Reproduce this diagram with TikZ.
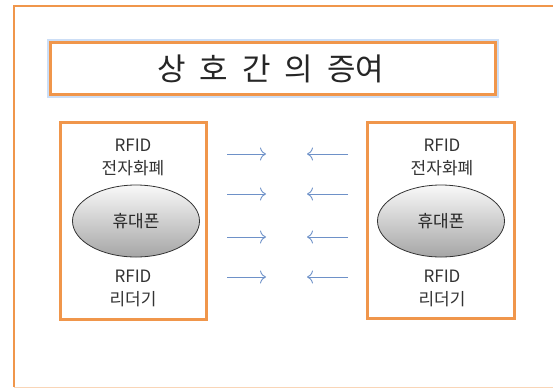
\documentclass[tikz,border=0pt]{standalone}
\usepackage{fontspec}
\setmainfont{Noto Sans CJK KR}
\newfontfamily\krfont{Noto Sans CJK KR}
\newcommand{\tsp}{\hspace{0.45em}}
\begin{document}
\begin{tikzpicture}[x=1pt,y=-1pt,
  frame/.style={draw=orangeline,line width=3pt},
  lbl/.style={font=\krfont\fontsize{17}{20}\selectfont,text=black!80,align=center,inner sep=0pt},
  phone/.style={ellipse,draw=black!80,line width=0.8pt,minimum width=127pt,minimum height=72pt,
     top color=white!95!gray,bottom color=black!35,font=\krfont\fontsize{17}{20}\selectfont,text=black!85},
  flow/.style={draw=arrowblue,line width=0.9pt,-{To[length=6pt,width=13pt]}}
]
\usetikzlibrary{shapes.geometric,arrows.meta}
\definecolor{orangeline}{RGB}{240,150,75}
\definecolor{arrowblue}{RGB}{110,145,200}
\definecolor{glow}{RGB}{170,200,240}
\useasboundingbox (0,0) rectangle (553,389);
\fill[white] (0,0) rectangle (553,389);
% outer frame
\draw[draw=orangeline,line width=2.5pt] (560,6) -- (14,6) -- (14,387);
\draw[draw=orangeline!40,line width=1pt] (14,387) -- (553,387);
% title
\draw[glow,line width=6pt,opacity=0.6] (50,42) rectangle (496,95);
\node[frame,minimum width=445pt,minimum height=52pt,inner sep=0pt,fill=white] (title) at (273,68.5) {};
\node[font=\krfont\fontsize{31}{34}\selectfont,text=black!85] (titletext) at (271,69) {상\tsp 호\tsp 간\tsp 의\tsp 증여};
% left box
\node[frame,minimum width=146pt,minimum height=197pt,inner sep=0pt] (lbox) at (133.5,221) {};
\node[lbl] (lr1) at (133,145) {RFID};
\node[lbl] (lm1) at (133,168) {전자화폐};
\node[phone] (lphone) at (136,221) {휴대폰};
\node[lbl] (lr2) at (133,276) {RFID};
\node[lbl] (lm2) at (133,299) {리더기};
% right box
\node[frame,minimum width=147pt,minimum height=196pt,inner sep=0pt] (rbox) at (441,220.5) {};
\node[lbl] (rr1) at (442,145) {RFID};
\node[lbl] (rm1) at (442,168) {전자화폐};
\node[phone] (rphone) at (441,221) {휴대폰};
\node[lbl] (rr2) at (442,276) {RFID};
\node[lbl] (rm2) at (442,299) {리더기};
% arrows
\foreach \i/\y in {1/154,2/194,3/237,4/277}{
  \coordinate (ra\i) at (227,\y); \coordinate (rb\i) at (266,\y);
  \coordinate (la\i) at (348,\y); \coordinate (lb\i) at (307,\y);
  \draw[flow] (ra\i) -- (rb\i);
  \draw[flow] (la\i) -- (lb\i);
}
\end{tikzpicture}
\end{document}
